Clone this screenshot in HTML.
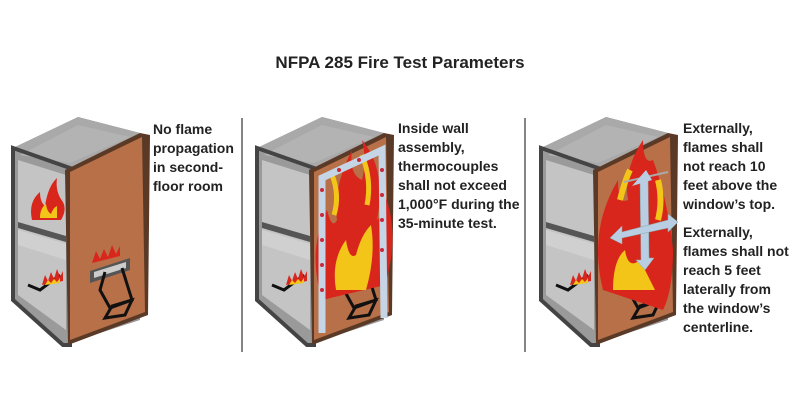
<!DOCTYPE html>
<html><head><meta charset="utf-8"><style>
html,body{margin:0;padding:0;background:#fff;width:800px;height:400px;overflow:hidden}
</style></head><body>
<svg width="800" height="400" viewBox="0 0 800 400" xmlns="http://www.w3.org/2000/svg" font-family="Liberation Sans, sans-serif">
<defs>
<g id="cab">
  <!-- back/side structure -->
  <polygon points="13,148 78,117 140,133 140,320 63,345 13,300" fill="#9a9a9a"/>
  <polygon points="18,160 66,175 66,330 18,295" fill="#c4c4c4"/>
  <polygon points="13,148 78,117 140,133 70,168" fill="#a9a9a9"/>
  <polygon points="20,155 78,125 130,137 70,163" fill="#b3b3b3"/>
  <polygon points="13,148 70,168 70,345 63,345 13,300" fill="none" stroke="#444" stroke-width="4"/>
  <polygon points="18,222 66,236 66,242 18,228" fill="#555"/>
  <polygon points="18,230 66,244 66,260 18,245" fill="#d0d0d0"/>
  <!-- front panel -->
  <polygon points="65,170 140,133 150,135 148,315 68,345" fill="#5a3a26"/>
  <polygon points="70,172 142,137 145,312 70,340" fill="#b87049"/>
  <!-- burner -->
  <polyline points="28,285 40,290 60,275" fill="none" stroke="#111" stroke-width="3"/>
  <path d="M42,285 l3,-10 3,6 3,-9 3,7 3,-10 3,8 3,-6 v10 z" fill="#d8261c"/>
  <path d="M45,285 l3,-5 3,3 3,-4 3,3 3,-4 v5 z" fill="#f2c518"/>
  <!-- window -->
  <polygon points="90,271 130,258 130,270 90,283" fill="#555"/>
  <polygon points="94,272 126,262 126,268 94,278" fill="#ccc"/>
  <polyline points="105,272 100,290 110,308 132,300 122,268" fill="none" stroke="#111" stroke-width="3"/>
  <polygon points="112,306 105,318 125,315 132,300" fill="none" stroke="#111" stroke-width="3"/>
</g>
</defs>
<text x="400" y="68" text-anchor="middle" font-size="17" font-weight="bold" fill="#222">NFPA 285 Fire Test Parameters</text>
<line x1="242" y1="118" x2="242" y2="352" stroke="#333" stroke-width="1.2"/>
<line x1="525" y1="118" x2="525" y2="352" stroke="#333" stroke-width="1.2"/>

<!-- Panel 1 -->
<use href="#cab"/>
<path d="M32,220 q-4,-18 8,-28 q0,10 5,14 q3,-20 12,-28 q-2,14 6,24 q4,8 -2,18 z" fill="#d8261c"/>
<path d="M40,218 q0,-10 6,-14 q1,8 5,10 q2,-6 6,-8 v12 z" fill="#f2c518"/>
<path d="M92,263 l4,-12 4,8 4,-10 4,8 4,-12 4,9 4,-8 v10 z" fill="#d8261c"/>
<text font-size="14" font-weight="bold" fill="#222">
<tspan x="153" y="134">No flame</tspan><tspan x="153" y="153">propagation</tspan><tspan x="153" y="172">in second-</tspan><tspan x="153" y="191">floor room</tspan></text>

<!-- Panel 2 -->
<g transform="translate(244,0)"><use href="#cab"/>
  <path d="M78,300 q-15,-50 5,-90 q5,20 10,10 q-5,-30 15,-70 q-3,25 10,30 q5,-20 0,-40 q25,30 15,80 q10,-10 8,-25 q15,40 0,90 z" fill="#d8261c"/>
  <path d="M92,290 q-5,-30 10,-50 q3,20 10,15 q5,-20 15,-30 q5,30 -5,65 z" fill="#f2c518"/>
  <path d="M88,175 q8,20 2,40 M118,155 q10,25 5,50" stroke="#f2c518" stroke-width="5" fill="none"/>
  <polyline points="78,333 78,178 138,150 140,318" fill="none" stroke="#c5d5e6" stroke-width="7"/>
  <g fill="#c8283a"><circle cx="78" cy="190" r="2"/><circle cx="78" cy="215" r="2"/><circle cx="78" cy="240" r="2"/><circle cx="78" cy="265" r="2"/><circle cx="78" cy="290" r="2"/><circle cx="95" cy="170" r="2"/><circle cx="115" cy="160" r="2"/><circle cx="138" cy="170" r="2"/><circle cx="138" cy="195" r="2"/><circle cx="138" cy="220" r="2"/><circle cx="138" cy="250" r="2"/></g>
</g>
<text font-size="14" font-weight="bold" fill="#222">
<tspan x="398" y="133">Inside wall</tspan><tspan x="398" y="152">assembly,</tspan><tspan x="398" y="171">thermocouples</tspan><tspan x="398" y="190">shall not exceed</tspan><tspan x="398" y="209">1,000°F during the</tspan><tspan x="398" y="228">35-minute test.</tspan></text>

<!-- Panel 3 -->
<g transform="translate(528,0)"><use href="#cab"/>
  <path d="M75,290 q-15,-60 15,-110 q0,25 10,20 q-5,-30 15,-60 q0,25 10,20 q15,40 20,90 q0,40 -10,60 z" fill="#d8261c"/>
  <path d="M85,290 q0,-30 12,-40 q3,20 15,10 q10,20 15,30 z" fill="#f2c518"/>
  <path d="M92,200 q5,-20 10,-30 M130,180 q5,20 0,40" stroke="#f2c518" stroke-width="6" fill="none"/>
  <line x1="96" y1="182" x2="140" y2="172" stroke="#aaa" stroke-width="2"/>
  <polygon points="112,178 120,176 121,258 126,258 117,270 108,260 113,260" fill="#b9cde3" stroke="#8aa" stroke-width="0.5"/>
  <polygon points="118,170 104,186 124,180" fill="#b9cde3"/>
  <polygon points="82,238 94,226 94,232 140,220 140,214 150,222 140,232 140,228 94,238 94,244" fill="#b9cde3" stroke="#8aa" stroke-width="0.5"/>
</g>
<text font-size="14" font-weight="bold" fill="#222">
<tspan x="683" y="133">Externally,</tspan><tspan x="683" y="152">flames shall</tspan><tspan x="683" y="171">not reach 10</tspan><tspan x="683" y="190">feet above the</tspan><tspan x="683" y="209">window’s top.</tspan>
<tspan x="683" y="237">Externally,</tspan><tspan x="683" y="256">flames shall not</tspan><tspan x="683" y="275">reach 5 feet</tspan><tspan x="683" y="294">laterally from</tspan><tspan x="683" y="313">the window’s</tspan><tspan x="683" y="332">centerline.</tspan></text>
</svg>
</body></html>
